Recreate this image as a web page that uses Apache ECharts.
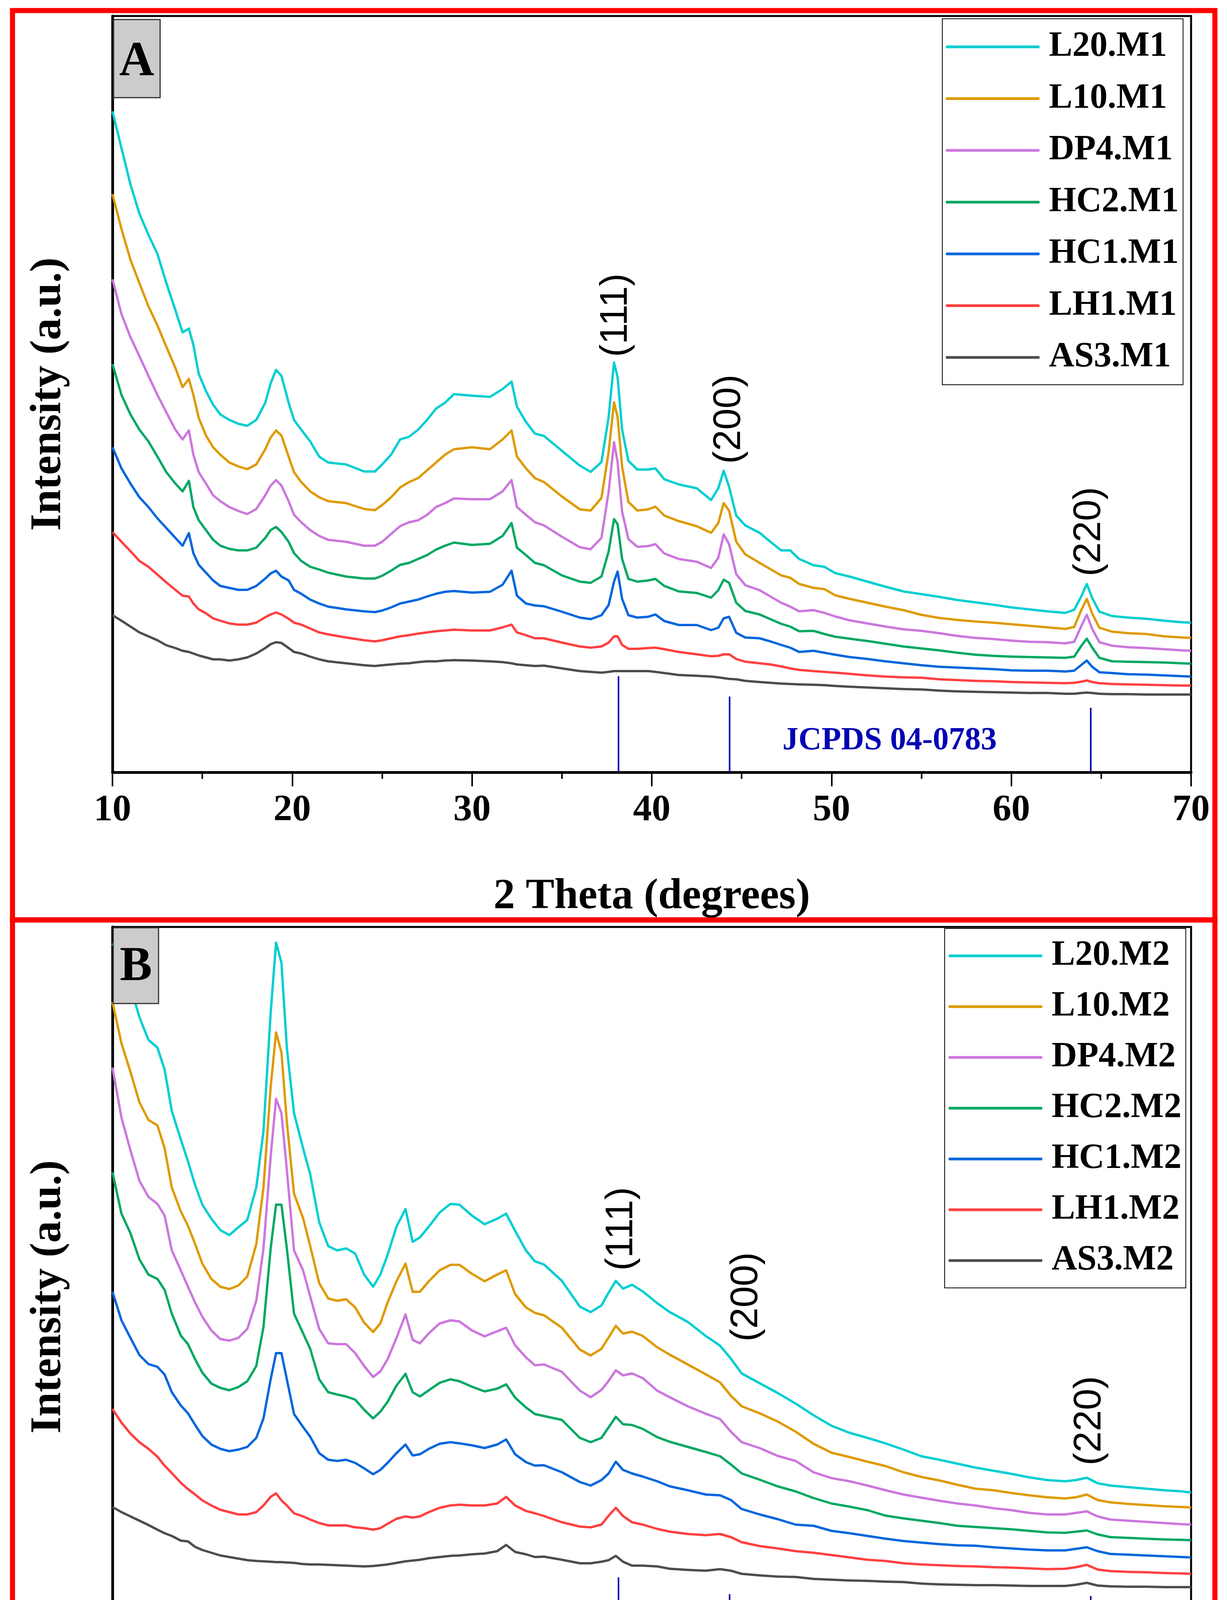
<!DOCTYPE html>
<html>
<head>
<meta charset="utf-8">
<script src="https://cdn.jsdelivr.net/npm/echarts@6/dist/echarts.min.js"></script>
<style>
html,body{margin:0;padding:0;background:#fff;}
#chart{width:3142px;height:4691px;}
</style>
</head>
<body>
<div id="chart"></div>
<script>
// ---------- Panel A (M1) ----------
const xA = [10.0,10.5,11,11.5,12,12.5,13,13.5,13.9,14.25,14.5,14.8,15.2,15.6,16,16.5,17,17.5,18,18.5,18.8,19.1,19.4,19.8,20.1,20.5,21,21.5,22,23,24,24.6,25,25.5,26,26.5,27,27.5,28,28.5,29,30,31,31.7,32.2,32.5,33,33.5,
34,35,36,36.6,37.2,37.6,37.9,38.1,38.35,38.7,39.2,39.8,40.2,40.7,41.5,42.5,43.3,43.7,44.0,44.3,44.7,45.2,46,46.6,47.2,47.7,48.2,49,49.6,50.2,51,52,53,54,
55,56,57,58,59,60,61,62,63,63.5,63.9,64.2,64.5,64.9,65.6,66.5,67.5,68.5,69.5,70];

const L20_M1 = [1695,1601,1508,1433,1379,1330,1255,1186,1129,1139,1097,1023,979,944,919,905,895,890,905,949,999,1033,1018,949,905,880,850,811,796,791,773,773,791,816,855,862,880,905,934,949,971,967,964,984,1003,939,900,870,
864,826,788,772,797,912,1052,1014,880,800,778,778,781,753,740,730,700,730,775,734,660,635,616,593,571,571,549,533,529,513,504,491,478,466,
459,452,444,438,432,425,420,415,411,419,454,485,449,414,403,399,396,391,387,386];
const L10_M1 = [1483,1394,1315,1255,1196,1147,1092,1038,989,1010,969,910,865,835,816,796,786,779,791,830,860,878,865,811,771,746,722,707,697,692,677,674,687,707,732,746,756,776,796,816,830,835,830,855,878,811,781,756,
746,709,676,673,705,823,950,912,785,695,673,676,683,660,646,633,616,641,692,673,593,561,539,523,507,501,485,475,472,456,447,437,427,418,
406,398,393,389,386,382,378,374,370,375,419,447,409,373,363,359,357,351,348,347];
const DP4_M1 = [1265,1176,1117,1068,1018,969,924,880,855,878,816,771,742,712,697,682,672,664,677,712,737,751,737,697,662,643,623,608,598,593,583,583,593,613,633,643,648,662,682,692,704,702,702,722,751,682,662,643,
635,606,579,574,603,721,848,797,670,600,580,582,587,563,549,542,526,552,612,587,510,482,469,453,437,427,415,418,411,402,392,384,376,369,
365,359,352,347,344,340,337,336,333,337,378,406,370,336,327,323,321,318,315,314];
const HC2_M1 = [1048,969,919,880,850,811,771,742,722,749,682,648,623,598,583,575,571,571,578,603,623,631,618,593,564,544,529,522,514,504,499,499,506,519,534,539,549,559,573,583,591,585,588,608,641,578,559,539,
533,507,491,488,504,568,651,638,549,498,491,494,498,480,466,462,450,469,496,488,437,416,407,395,383,376,364,365,357,350,345,339,332,325,
320,315,309,304,301,299,298,297,296,299,327,345,322,296,287,286,285,284,282,281];
const HC1_M1 = [835,781,742,707,682,653,628,603,583,615,564,534,514,494,480,475,470,470,480,499,512,519,504,494,470,460,445,435,427,420,415,413,417,425,435,440,445,453,460,465,467,463,465,483,519,455,435,430,
428,414,399,395,405,431,491,517,447,405,399,401,407,390,380,380,367,373,397,401,360,348,346,338,329,322,311,314,309,304,298,293,287,282,
277,273,271,269,267,264,263,263,261,263,278,289,273,259,257,254,253,251,249,248];
const LH1_M1 = [618,593,569,544,529,509,489,470,455,453,435,420,410,397,391,384,381,381,386,400,407,412,407,396,386,381,371,361,356,348,341,338,341,346,351,354,358,361,364,366,368,366,366,374,381,361,354,346,
346,335,325,322,325,335,351,351,329,319,319,321,322,318,311,305,300,301,305,305,293,286,282,279,274,269,265,262,260,258,255,251,248,246,
245,241,239,237,236,234,233,232,231,232,235,238,234,231,229,228,227,226,225,225];
const AS3_M1 = [405,391,376,361,351,341,328,321,314,311,307,302,297,292,292,289,292,297,307,321,331,336,334,321,311,307,299,292,287,282,277,275,277,279,281,282,285,287,287,289,290,289,287,285,282,279,277,275,
276,269,262,260,258,260,262,262,262,262,262,262,260,257,252,250,248,246,244,242,241,237,234,232,230,229,228,227,226,224,222,220,218,216,
215,212,210,209,208,207,206,206,204,204,206,207,206,204,203,203,202,202,202,202];

// ---------- Panel B (M2) ----------
const xB = [10.0,10.5,11,11.5,12,12.5,12.9,13.3,13.8,14.2,14.6,15,15.5,16,16.5,17,17.5,18,18.4,18.8,19.1,19.4,19.7,20.1,20.6,21,21.5,22,22.5,23,23.5,24,24.5,24.9,25.3,25.8,26.3,26.7,27.1,27.6,28.2,28.8,29.3,30,30.7,31.4,31.9,32.4,33,33.5,
34,35,36,36.6,37.2,37.6,38.0,38.4,38.9,39.5,40.3,41,42,43,43.8,44.4,45,46,47,48,49,50,51,52,53,54,
55,56,57,58,59,60,61,62,63,63.6,64.2,64.8,65.5,66.5,67.5,68.5,69.5,70];

const L20_M2 = [1858,1814,1747,1669,1611,1591,1535,1429,1356,1300,1239,1189,1153,1124,1111,1131,1150,1233,1378,1680,1860,1808,1591,1423,1334,1267,1144,1083,1072,1077,1064,1010,979,1010,1060,1133,1178,1094,1105,1133,1169,1191,1189,1161,1139,1153,1166,1122,1072,1044,
1036,994,928,914,931,964,994,974,984,967,937,914,889,853,828,795,757,732,707,680,650,623,605,592,578,562,
545,536,526,516,508,500,491,484,481,484,490,476,470,466,462,458,455,452];
const L10_M2 = [1708,1602,1529,1451,1406,1392,1334,1233,1172,1135,1088,1038,999,979,973,982,1005,1088,1233,1490,1630,1579,1401,1217,1155,1083,988,949,943,947,926,887,863,885,938,993,1038,966,966,993,1021,1035,1035,1012,993,1010,1021,960,926,912,
906,874,818,803,820,849,879,859,864,853,824,805,780,755,734,700,673,655,634,608,577,554,543,531,520,504,
492,483,472,462,458,451,445,440,437,440,447,433,427,423,420,417,415,414];
const DP4_M2 = [1540,1412,1328,1250,1209,1191,1161,1072,1021,979,938,902,867,845,841,848,871,943,1077,1312,1460,1423,1278,1072,1021,954,871,834,832,832,809,776,748,762,793,848,908,843,834,860,885,893,890,867,852,865,874,829,798,778,
780,761,713,696,715,738,765,752,757,745,713,696,673,654,640,608,581,566,546,533,504,489,481,470,458,447,
439,431,424,419,412,407,400,396,396,400,404,391,383,380,377,374,371,370];
const HC2_M2 = [1272,1166,1116,1049,1010,999,971,910,854,832,793,759,731,720,714,722,737,776,876,1077,1189,1189,1077,910,860,820,742,709,703,698,690,664,642,659,684,726,756,709,698,714,733,742,737,723,711,718,729,695,670,653,
648,638,592,581,592,619,646,627,625,615,594,582,569,556,545,524,501,485,468,455,438,424,416,407,393,386,
380,374,367,364,361,358,354,350,349,352,355,345,338,336,334,332,331,330];
const HC1_M2 = [966,893,848,804,781,774,754,709,675,655,625,597,575,564,558,562,569,592,642,742,809,809,742,653,620,595,553,536,533,536,528,514,499,510,528,553,575,547,550,564,577,581,578,573,566,575,588,550,530,521,
522,504,479,470,484,501,531,510,501,493,481,468,458,447,445,433,410,396,384,370,367,354,348,341,334,328,
324,320,317,316,312,309,306,304,304,308,312,302,295,293,291,289,287,286];
const LH1_M2 = [666,631,603,581,564,544,521,502,477,461,447,432,419,408,402,396,396,402,419,441,450,432,419,399,391,383,374,368,368,368,363,361,357,361,372,385,391,388,391,402,413,419,421,419,419,424,441,419,405,399,
392,376,365,363,370,393,413,392,376,370,359,352,346,343,346,338,325,315,309,302,298,292,286,280,277,271,
268,266,264,263,261,260,258,256,257,261,267,255,251,249,248,246,245,244];
const AS3_M2 = [415,402,391,380,369,357,348,341,329,327,313,305,298,291,287,283,279,277,276,275,274,274,273,272,269,268,268,267,266,265,264,263,264,266,268,272,276,278,280,284,287,290,291,294,296,302,318,300,294,287,
288,280,271,271,275,279,290,275,265,265,263,257,254,252,256,252,244,240,237,236,231,229,227,226,224,223,
219,217,216,215,215,214,213,213,213,216,221,214,212,211,211,210,210,210];

// ---------- names, colours, annotations ----------
const namesA = ['L20.M1','L10.M1','DP4.M1','HC2.M1','HC1.M1','LH1.M1','AS3.M1'];
const namesB = ['L20.M2','L10.M2','DP4.M2','HC2.M2','HC1.M2','LH1.M2','AS3.M2'];
const colors = ['#00CED1','#DE9A00','#CC77DD','#00A862','#0066DD','#FF4040','#4D4D4D'];
const valuesA = [L20_M1, L10_M1, DP4_M1, HC2_M1, HC1_M1, LH1_M1, AS3_M1];
const valuesB = [L20_M2, L10_M2, DP4_M2, HC2_M2, HC1_M2, LH1_M2, AS3_M2];

const xTicks = [10, 20, 30, 40, 50, 60, 70];
const jcpdsA = [[38.15, 249], [44.33, 197], [64.42, 168]];
const jcpdsB = [[38.15, 235], [44.33, 192], [64.42, 187]];
const peaksA = [['(111)', 38.03, 1173], ['(200)', 44.33, 907], ['(220)', 64.36, 619]];
const peaksB = [['(111)', 38.33, 1127], ['(200)', 45.28, 953], ['(220)', 64.38, 636]];
const jcpdsLabelA = ['JCPDS 04-0783', 53.23, 83];
const jcpdsLabelB = ['JCPDS 04-0783', 52.21, 86];

// ---------- build option ----------
const serif = 'Liberation Serif';
function pairs(xs, ys) { return xs.map((x, i) => [x, ys[i]]); }

function xAxisCfg(gi) {
  return {
    type: 'value', gridIndex: gi, min: xTicks[0], max: xTicks[xTicks.length - 1], interval: 10,
    position: 'bottom',
    axisLine: { show: true, onZero: false, lineStyle: { color: '#000', width: 7 } },
    axisTick: { show: true, inside: false, length: 36, lineStyle: { color: '#000', width: 4 } },
    minorTick: { show: true, splitNumber: 2, length: 17, lineStyle: { color: '#000', width: 4 } },
    axisLabel: { show: true, margin: 50, color: '#000', fontFamily: serif, fontWeight: 'bold', fontSize: 96,
                 showMinLabel: true, showMaxLabel: true },
    splitLine: { show: false }, minorSplitLine: { show: false }
  };
}
function yAxisCfg(gi, mn, mx) {
  return {
    type: 'value', gridIndex: gi, min: mn, max: mx,
    axisLine: { show: true, onZero: false, lineStyle: { color: '#000', width: 7 } },
    axisTick: { show: false }, axisLabel: { show: false }, splitLine: { show: false }
  };
}
function legendCfg(names, top, left, pad, gap) {
  return {
    data: names.map(n => ({ name: n, icon: 'roundRect' })),
    orient: 'vertical', left: left, top: top, padding: pad,
    itemWidth: 240, itemHeight: 7, itemGap: gap, selectedMode: false,
    borderColor: '#000', borderWidth: 2, backgroundColor: '#fff',
    itemStyle: { borderWidth: 0 },
    textStyle: { fontFamily: serif, fontWeight: 'bold', fontSize: 90, lineHeight: 90, color: '#000', padding: [0, 0, 0, 19] }
  };
}

const series = [];
function addPanel(gi, xs, vals, names, jc, peaks, jlabel) {
  vals.forEach((v, k) => {
    series.push({
      type: 'line', name: names[k], xAxisIndex: gi, yAxisIndex: gi,
      data: pairs(xs, v), showSymbol: false, symbol: 'none', clip: true,
      lineStyle: { color: colors[k], width: 6, join: 'round' }, itemStyle: { color: colors[k] },
      z: 10 - k
    });
  });
  series.push({
    type: 'bar', name: 'JCPDS' + gi, xAxisIndex: gi, yAxisIndex: gi, barWidth: 4,
    data: jc, itemStyle: { color: '#0000B4' }, silent: true, z: 3
  });
  series.push({
    type: 'scatter', name: 'peaks' + gi, xAxisIndex: gi, yAxisIndex: gi, symbolSize: 2,
    itemStyle: { color: 'rgba(0,0,0,0)' }, silent: true, z: 20,
    data: peaks.map(p => ({ name: p[0], value: [p[1], p[2]] })),
    label: { show: true, position: 'inside', rotate: 90, formatter: '{b}', color: '#000', opacity: 1,
             textBorderWidth: 0, textBorderColor: 'transparent', fontFamily: 'Liberation Sans', fontSize: 98 }
  });
  series.push({
    type: 'scatter', name: 'jlabel' + gi, xAxisIndex: gi, yAxisIndex: gi, symbolSize: 2,
    itemStyle: { color: 'rgba(0,0,0,0)' }, silent: true, z: 20,
    data: [{ name: jlabel[0], value: [jlabel[1], jlabel[2]] }],
    label: { show: true, position: 'inside', formatter: '{b}', color: '#0000B4', opacity: 1, textBorderWidth: 0,
             textBorderColor: 'transparent', fontFamily: serif, fontWeight: 'bold', fontSize: 82 }
  });
}
addPanel(0, xA, valuesA, namesA, jcpdsA, peaksA, jcpdsLabelA);
addPanel(1, xB, valuesB, namesB, jcpdsB, peaksB, jcpdsLabelB);

function txt(x, y, s, font, rot, fill) {
  return { type: 'text', x: x, y: y, rotation: rot || 0, z: 200,
    style: { text: s, font: font, fill: fill || '#000', align: 'center', verticalAlign: 'middle',
             textAlign: 'center', textVerticalAlign: 'middle' } };
}

const option = {
  backgroundColor: '#fff',
  animation: false,
  grid: [
    { left: 288, top: 41, width: 2762, height: 1936, show: true, borderColor: '#000', borderWidth: 5, containLabel: false },
    { left: 288, top: 2373, width: 2762, height: 1893, show: true, borderColor: '#000', borderWidth: 5, containLabel: false }
  ],
  xAxis: [xAxisCfg(0), xAxisCfg(1)],
  yAxis: [yAxisCfg(0, 3, 1939), yAxisCfg(1, 7, 1900)],
  legend: [
    legendCfg(namesA, 48, 2413, [27, 11, 25, 9], 42.5),
    legendCfg(namesB, 2377, 2419, [25, 11, 25, 10], 40)
  ],
  series: series,
  graphic: [
    { type: 'rect', z: 150, shape: { x: 32, y: 27, width: 3079, height: 2328 },
      style: { fill: 'none', stroke: '#FF0000', lineWidth: 13 } },
    { type: 'rect', z: 150, shape: { x: 32, y: 2355, width: 3079, height: 2306 },
      style: { fill: 'none', stroke: '#FF0000', lineWidth: 13 } },
    { type: 'rect', z: 150, shape: { x: 291, y: 50, width: 119, height: 200 },
      style: { fill: '#CCCCCC', stroke: '#333', lineWidth: 3 } },
    { type: 'rect', z: 150, shape: { x: 290, y: 2375, width: 116, height: 194 },
      style: { fill: '#CCCCCC', stroke: '#333', lineWidth: 3 } },
    txt(350, 160, 'A', 'bold 124px "Liberation Serif"'),
    txt(348, 2477, 'B', 'bold 124px "Liberation Serif"'),
    txt(125, 1009, 'Intensity (a.u.)', 'bold 112px "Liberation Serif"', Math.PI / 2),
    txt(125, 3320, 'Intensity (a.u.)', 'bold 112px "Liberation Serif"', Math.PI / 2),
    txt(1669, 2297, '2 Theta (degrees)', 'bold 110px "Liberation Serif"'),
    txt(1669, 4582, '2 Theta (degrees)', 'bold 110px "Liberation Serif"')
  ]
};

const chart = echarts.init(document.getElementById('chart'), null, { renderer: 'canvas', width: 3142, height: 4691 });
chart.setOption(option);
</script>
</body>
</html>
